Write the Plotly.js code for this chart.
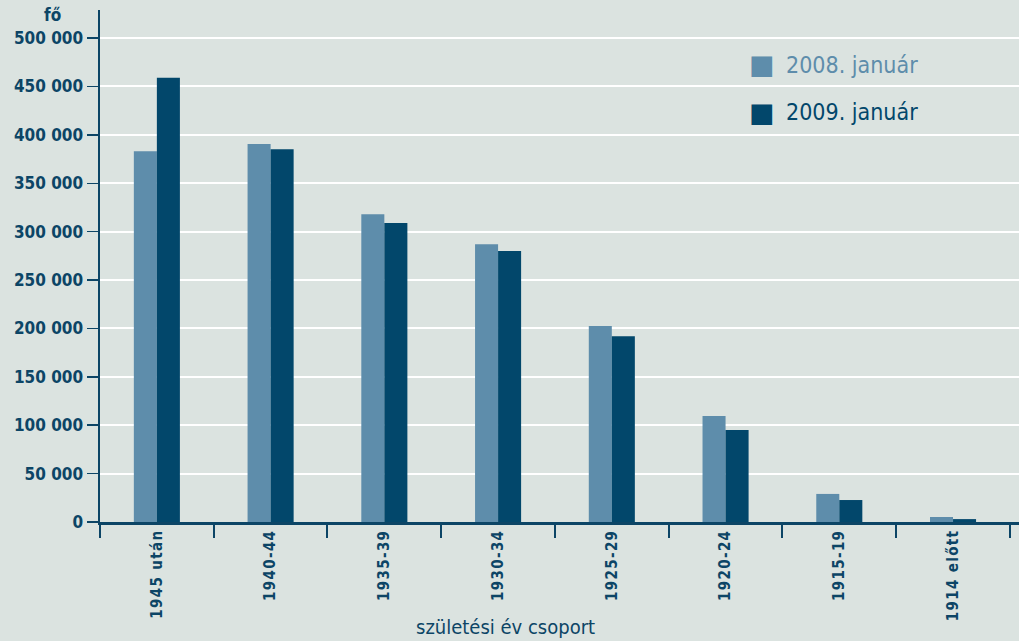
<!DOCTYPE html>
<html><head><meta charset="utf-8">
<script src="https://cdn.plot.ly/plotly-3.0.1.min.js"></script>
<style>html,body{margin:0;padding:0;background:#dbe3e0;}</style>
</head><body>
<div id="chart" style="width:1019px;height:641px;"></div>
<script>
const categories = ["1945 után","1940-44","1935-39","1930-34","1925-29","1920-24","1915-19","1914 előtt"];
const jan2008 = [383000, 390500, 318000, 287000, 202500, 109500, 29000, 5200];
const jan2009 = [459000, 385000, 309000, 280000, 192000, 95000, 22700, 3000];
const series = ["2008. január", "2009. január"];
const yTicks = [0,50000,100000,150000,200000,250000,300000,350000,400000,450000,500000];

const c08 = "#5e8dab", c09 = "#02476b", txt = "#0c4566";
const fontB = "'DejaVu Sans Condensed', 'DejaVu Sans', sans-serif";
const spaced = s => s.split("").join("\u200A");

const data = [
  {type:"bar", x:categories, y:jan2008, name:series[0], marker:{color:c08}, showlegend:false},
  {type:"bar", x:categories, y:jan2009, name:series[1], marker:{color:c09}, showlegend:false}
];
const layout = {
  width:1019, height:641,
  paper_bgcolor:"#dbe3e0", plot_bgcolor:"#dbe3e0",
  margin:{l:100, r:0, t:10, b:119},
  barmode:"group", bargap:0.595, bargroupgap:0,
  separators:", ",
  font:{family:fontB, color:txt},
  xaxis:{
    type:"category", range:[-0.5, 7.58], tickson:"boundaries",
    ticks:"outside", ticklen:13, tickwidth:2, tickcolor:txt,
    tickvals:categories, ticktext:categories.map(spaced),
    tickangle:-90, tickfont:{size:15, weight:"bold", color:txt},
    showline:true, linecolor:txt, linewidth:3, showgrid:false, zeroline:false
  },
  yaxis:{
    range:[0, 529000], tickvals:yTicks, tickformat:",d",
    ticks:"outside", ticklen:11, tickwidth:1.5, tickcolor:txt,
    tickfont:{size:17, weight:"bold", color:txt},
    showline:true, linecolor:txt, linewidth:2.5,
    showgrid:true, gridcolor:"#ffffff", gridwidth:2, zeroline:false
  },
  annotations:[
    {xref:"paper", yref:"paper", x:-0.052, y:0.99, xanchor:"center", yanchor:"middle", text:"fő", showarrow:false, font:{size:17, weight:"bold", color:txt}},
    {xref:"paper", yref:"paper", x:0.441, y:-0.205, xanchor:"center", yanchor:"middle", text:"születési év csoport", showarrow:false, font:{size:20, color:txt}},
    {xref:"paper", yref:"paper", x:0.720, y:0.893, xanchor:"center", yanchor:"middle", text:"■", showarrow:false, font:{size:27, color:c08, family:"DejaVu Sans"}},
    {xref:"paper", yref:"paper", x:0.744, y:0.893, xanchor:"left", yanchor:"middle", text:series[0], showarrow:false, font:{size:23, color:c08}},
    {xref:"paper", yref:"paper", x:0.720, y:0.80, xanchor:"center", yanchor:"middle", text:"■", showarrow:false, font:{size:27, color:c09, family:"DejaVu Sans"}},
    {xref:"paper", yref:"paper", x:0.744, y:0.80, xanchor:"left", yanchor:"middle", text:series[1], showarrow:false, font:{size:23, color:c09}}
  ]
};
Plotly.newPlot("chart", data, layout, {displayModeBar:false, staticPlot:true});
</script>
</body></html>
